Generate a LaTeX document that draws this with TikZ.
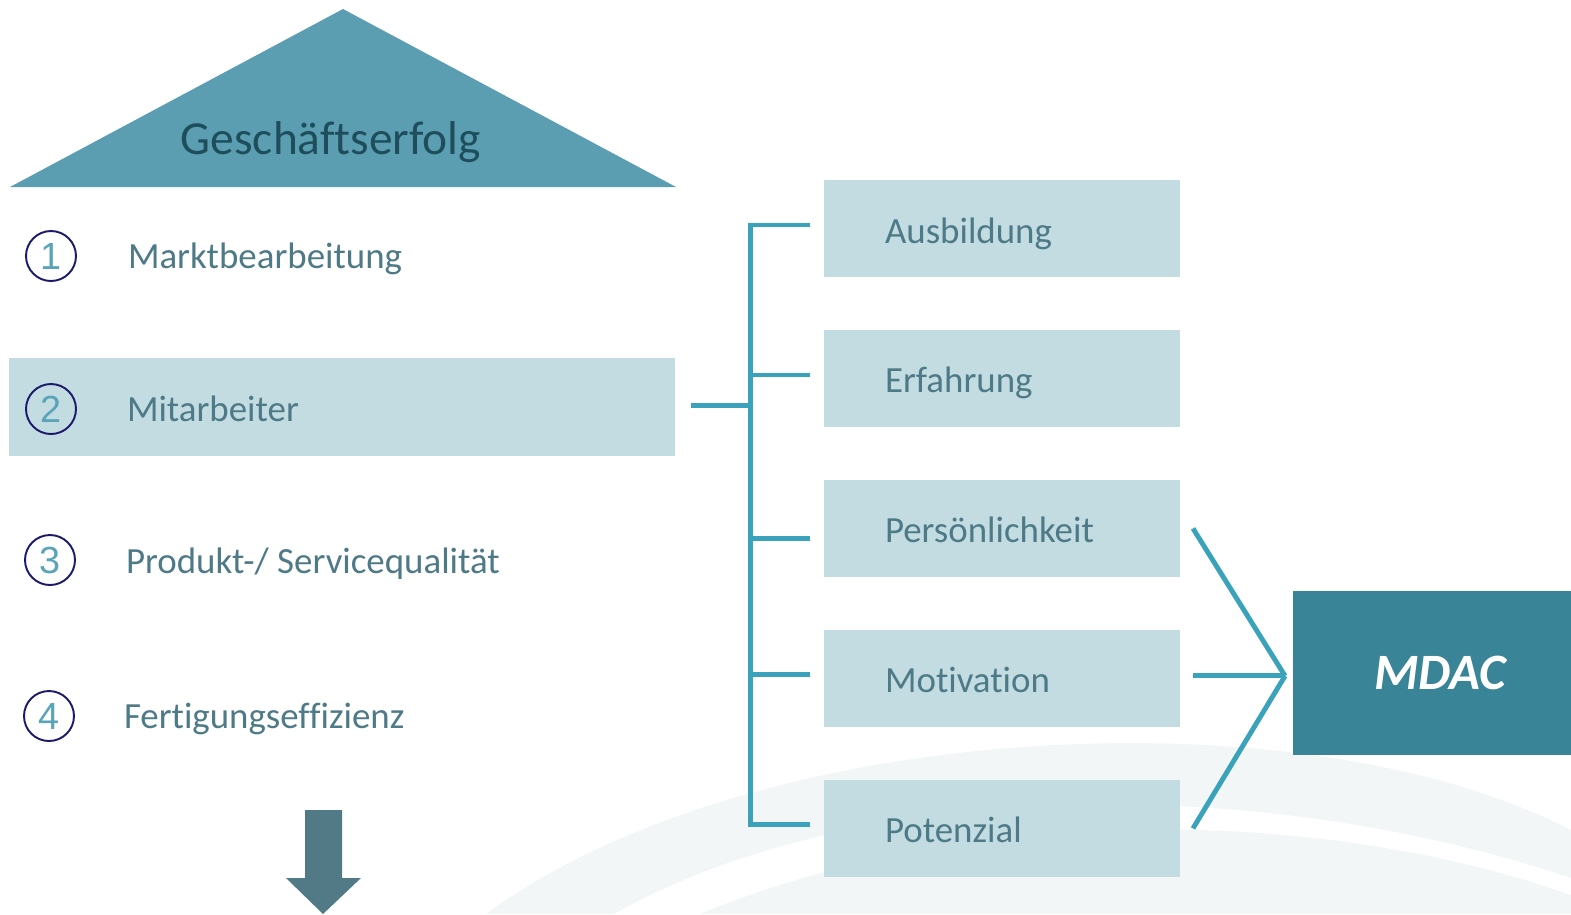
\documentclass[tikz,border=0pt]{standalone}
\usepackage{fontspec}
\setmainfont[Ligatures=NoCommon]{Carlito}
\newfontfamily\digitfont{Liberation Sans}
\usetikzlibrary{positioning}

\definecolor{roof}{HTML}{5B9EB2}
\definecolor{rooftext}{HTML}{1E4E5B}
\definecolor{lightbox}{HTML}{C2DCE2}
\definecolor{labeltext}{HTML}{4E7A87}
\definecolor{linkcol}{HTML}{3AA3BB}
\definecolor{mdaccol}{HTML}{398597}
\definecolor{ringcol}{HTML}{1B1A6B}
\definecolor{digitcol}{HTML}{5AA4B9}
\definecolor{arrowcol}{HTML}{527986}
\definecolor{swoosh}{HTML}{F2F6F7}

\begin{document}
\begin{tikzpicture}[x=0.02cm, y=-0.02cm,
   every node/.style={inner sep=0pt, outer sep=0pt},
   lbl/.style={anchor=base west, text=labeltext, font=\fontsize{21}{25}\selectfont},
   ring/.style={circle, draw=ringcol, line width=1.1pt, minimum size=1cm,
                text=digitcol, font=\digitfont\fontsize{21.5}{24}\selectfont},
   factor/.style={fill=lightbox, minimum width=7.12cm, minimum height=1.94cm,
                  text width=4.68cm, inner xsep=1.22cm, align=left,
                  text height=18.5pt, text depth=2pt, text=labeltext,
                  font=\fontsize{21}{25}\selectfont},
   linkline/.style={draw=linkcol, line width=2.8pt}]

\useasboundingbox (0,0) rectangle (1571,914);

% background swoosh
\fill[swoosh] (486,914) .. controls (750,720) and (1300,690) .. (1571,830)
   -- (1571,878) .. controls (1250,770) and (850,780) .. (614,914) -- cycle;
\fill[swoosh] (700,914) .. controls (950,810) and (1300,800) .. (1571,895)
   -- (1571,914) -- cycle;

% roof
\fill[roof] (10,187) -- (343,9) -- (676,187) -- cycle;
\node[anchor=base, text=rooftext, font=\fontsize{27}{32}\selectfont] (roof) at (331,154) {Geschäftserfolg};

% left column
\node[fill=lightbox, minimum width=13.32cm, minimum height=1.96cm] (mitarb) at (342,407) {};
\node[ring] (n1) at (51,256) {1};
\node[ring] (n2) at (51,409) {2};
\node[ring] (n3) at (50,560) {3};
\node[ring] (n4) at (49,716) {4};
\node[lbl] (markt) at (128,268) {Marktbearbeitung};
\node[lbl] (mitarbtext) at (127,421) {Mitarbeiter};
\node[lbl] (prod) at (126,573) {Produkt-/ Servicequalität};
\node[lbl] (fert) at (124,728) {Fertigungseffizienz};

\fill[arrowcol] (305,810) -- (342,810) -- (342,878) -- (361,878) -- (323,914)
   -- (286,878) -- (305,878) -- cycle;

% factors
\node[factor] (ausb) at (1002,228.5) {Ausbildung};
\node[factor, below=1.06cm of ausb] (erf) {Erfahrung};
\node[factor, below=1.06cm of erf] (pers) {Persönlichkeit};
\node[factor, below=1.06cm of pers] (motiv) {Motivation};
\node[factor, below=1.06cm of motiv] (pot) {Potenzial};

\node[fill=mdaccol, minimum width=5.88cm, minimum height=3.28cm, text=white,
      font=\fontsize{29}{34}\selectfont\bfseries\itshape] (mdac) at (1440,673) {MDAC};
\coordinate (meet) at ([xshift=-0.16cm,yshift=0.05cm]mdac.west |- motiv.east);

% bracket
\draw[linkline] ([xshift=0.32cm,yshift=0.03cm]mitarb.east) -- ++(59,0);
\draw[linkline] ([xshift=-0.28cm,yshift=0.07cm]ausb.west) -- ++(-60,0)
   |- ([xshift=-0.28cm,yshift=0.07cm]pot.west);
\foreach \n/\dy in {erf/0.07, pers/-0.21, motiv/0.07}
   \draw[linkline] ([xshift=-0.28cm,yshift=\dy cm]\n.west) -- ++(-60,0);

\draw[linkline] ([xshift=0.26cm]pers.east) -- (meet);
\draw[linkline] ([xshift=0.26cm,yshift=0.05cm]motiv.east) -- (meet);
\draw[linkline] ([xshift=0.26cm]pot.east) -- (meet);

\end{tikzpicture}
\end{document}
